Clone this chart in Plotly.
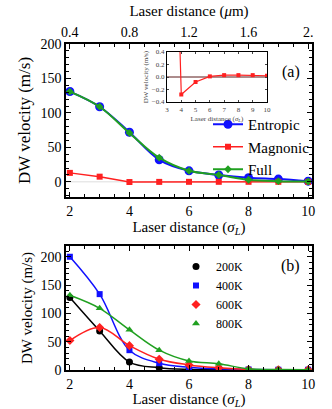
import plotly.graph_objects as go

# laser distance in units of sigma_L
dist = [2, 3, 4, 5, 6, 7, 8, 9, 10]

# panel (a)
entropic = [131, 109, 72, 32, 16, 10, 6, 4, 1]
magnonic = [13, 7.5, -0.28, -0.08, 0.01, 0.03, 0.03, 0.03, 0.02]
full = [131, 109, 71, 35, 16, 10, 3, 1, 0.5]

# inset (magnonic zoom)
inset_x = dist
inset_y = magnonic

# panel (b)
temps = ["200K", "400K", "600K", "800K"]
v200 = [128, 69, 14, 4, 1, 0.3, 0.1, 0, 0]
v400 = [200, 134, 35, 12, 5, 2, 1, 0.5, 0.5]
v600 = [52, 75, 43, 19, 9, 4, 1, 0.5, 0.3]
v800 = [132, 109, 71, 35, 16, 11, 2, 1, 0.5]

W, H = 332, 409
FONT = "Times New Roman, Liberation Serif, DejaVu Serif, serif"


def px_x(p):
    return p / W


def px_y(p):
    return 1 - p / H


fig = go.Figure()

# ---- panel (a)
fig.add_trace(go.Scatter(x=dist, y=entropic, name="Entropic", mode="lines+markers",
                         line=dict(color="#1010ff", width=2, shape="spline"),
                         marker=dict(symbol="circle", size=9, color="#1010ff"),
                         xaxis="x", yaxis="y", legend="legend"))
fig.add_trace(go.Scatter(x=dist, y=magnonic, name="Magnonic", mode="lines+markers",
                         line=dict(color="#ff2020", width=1.5),
                         marker=dict(symbol="square", size=6, color="#ff2020"),
                         xaxis="x", yaxis="y", legend="legend"))
fig.add_trace(go.Scatter(x=dist, y=full, name="Full", mode="lines+markers",
                         line=dict(color="#20a020", width=2, shape="spline"),
                         marker=dict(symbol="diamond", size=6, color="#20a020"),
                         xaxis="x", yaxis="y", legend="legend"))
# top axis dummy trace for micrometre scale
fig.add_trace(go.Scatter(x=[0.2 * d for d in dist], y=entropic, mode="markers",
                         marker=dict(opacity=0), showlegend=False, hoverinfo="skip",
                         xaxis="x2", yaxis="y"))

# ---- inset
fig.add_trace(go.Scatter(x=[3, 10], y=[0, 0], mode="lines",
                         line=dict(color="#5a1a1a", width=1), showlegend=False,
                         xaxis="x3", yaxis="y3"))
fig.add_trace(go.Scatter(x=inset_x, y=inset_y, mode="lines+markers",
                         line=dict(color="#ff2020", width=1.2),
                         marker=dict(symbol="square", size=4, color="#ff2020"),
                         showlegend=False, xaxis="x3", yaxis="y3"))

# ---- panel (b)
styles = [
    (v200, "black", "circle", 7),
    (v400, "#1010ff", "square", 6),
    (v600, "#ff2020", "diamond", 7),
    (v800, "#20a020", "triangle-up", 7),
]
for name, (vals, col, sym, sz) in zip(temps, styles):
    fig.add_trace(go.Scatter(x=dist, y=vals, mode="lines",
                             line=dict(color=col, width=1.5, shape="spline"),
                             showlegend=False, xaxis="x4", yaxis="y4"))
    fig.add_trace(go.Scatter(x=dist, y=vals, name=name, mode="markers",
                             marker=dict(symbol=sym, size=sz, color=col),
                             xaxis="x4", yaxis="y4", legend="legend2"))

ax_common = dict(showgrid=False, zeroline=False, linecolor="black", linewidth=1.5,
                 ticks="inside", tickcolor="black", ticklen=5, automargin=False,
                 tickfont=dict(family=FONT, size=14, color="black"))

xa = [px_x(66), px_x(312)]
fig.update_layout(
    template="none",
    width=W, height=H, margin=dict(l=0, r=0, t=0, b=0, pad=0),
    paper_bgcolor="white", plot_bgcolor="white",
    font=dict(family=FONT, color="black"),
    showlegend=True,
    xaxis=dict(domain=xa, range=[1.87, 10.13], anchor="y", tickvals=[2, 4, 6, 8, 10],
               mirror=True, minor=dict(ticks="inside", dtick=0.5, ticklen=3, tickcolor="black"),
               title=dict(text="Laser distance (<i>σ<sub>L</sub></i>)",
                          font=dict(family=FONT, size=15), standoff=4),
               **ax_common),
    xaxis2=dict(overlaying="x", side="top", anchor="y", range=[0.374, 2.026],
                tickvals=[0.4, 0.8, 1.2, 1.6, 2.0], ticktext=["0.4", "0.8", "1.2", "1.6", "2."],
                minor=dict(ticks="inside", dtick=0.1, ticklen=3, tickcolor="black"),
                title=dict(text="Laser distance (<i>μ</i>m)",
                           font=dict(family=FONT, size=15), standoff=4),
                **ax_common),
    yaxis=dict(domain=[px_y(197), px_y(44)], range=[-22, 200], anchor="x",
               tickvals=[0, 50, 100, 150, 200], mirror="ticks",
               minor=dict(ticks="inside", dtick=10, ticklen=3, tickcolor="black"),
               title=dict(text="DW velocity (m/s)", font=dict(family=FONT, size=17), standoff=6),
               **ax_common),
    xaxis3=dict(domain=[px_x(167), px_x(267)], range=[3, 10], anchor="y3", dtick=1,
                showgrid=False, zeroline=False, linecolor="black", linewidth=1.2, mirror="ticks",
                ticks="inside", ticklen=2, automargin=False,
                tickfont=dict(family=FONT, size=7, color="#444"),
                title=dict(text="Laser distance (<i>σ<sub>L</sub></i>)",
                           font=dict(family=FONT, size=7, color="#444"), standoff=3)),
    yaxis3=dict(domain=[px_y(102), px_y(52)], range=[-0.4, 0.4], anchor="x3",
                tickvals=[-0.4, -0.2, 0, 0.2, 0.4],
                ticktext=["−0.4", "−0.2", "0.0", "0.2", "0.4"],
                showgrid=False, zeroline=False, linecolor="black", linewidth=1.2, mirror="ticks",
                ticks="inside", ticklen=2, automargin=False,
                tickfont=dict(family=FONT, size=7, color="#444"),
                title=dict(text="DW velocity (m/s)",
                           font=dict(family=FONT, size=7, color="#444"), standoff=2)),
    xaxis4=dict(domain=xa, range=[1.87, 10.13], anchor="y4", tickvals=[2, 4, 6, 8, 10],
                mirror="ticks", minor=dict(ticks="inside", dtick=0.5, ticklen=3, tickcolor="black"),
                title=dict(text="Laser distance (<i>σ<sub>L</sub></i>)",
                           font=dict(family=FONT, size=15), standoff=4),
                **ax_common),
    yaxis4=dict(domain=[px_y(370), px_y(246)], range=[0, 219], anchor="x4",
                tickvals=[0, 50, 100, 150, 200], mirror="ticks",
                minor=dict(ticks="inside", dtick=10, ticklen=3, tickcolor="black"),
                title=dict(text="DW velocity (m/s)", font=dict(family=FONT, size=15), standoff=4),
                **ax_common),
    legend=dict(x=px_x(208), y=px_y(108), xanchor="left", yanchor="top",
                bgcolor="rgba(255,255,255,0)", font=dict(family=FONT, size=15),
                itemwidth=30, tracegroupgap=0, borderwidth=0),
    legend2=dict(x=px_x(176), y=px_y(252), xanchor="left", yanchor="top",
                 bgcolor="rgba(255,255,255,0)", font=dict(family=FONT, size=12),
                 itemwidth=30, tracegroupgap=0, borderwidth=0),
    annotations=[
        dict(text="(a)", x=px_x(302), y=px_y(61), xref="paper", yref="paper",
             showarrow=False, xanchor="right", font=dict(family=FONT, size=16)),
        dict(text="(b)", x=px_x(302), y=px_y(266), xref="paper", yref="paper",
             showarrow=False, xanchor="right", font=dict(family=FONT, size=16)),
    ],
    shapes=[dict(type="line", xref="x", yref="y", x0=1.87, x1=10.13, y0=0, y1=0,
                 line=dict(color="#dddddd", width=1), layer="below")],
)

# drop the default 8px body margin so the figure fills the window exactly
fig.write_html("out.html", config={"displayModeBar": False},
               post_script="document.body.style.margin='0';")
